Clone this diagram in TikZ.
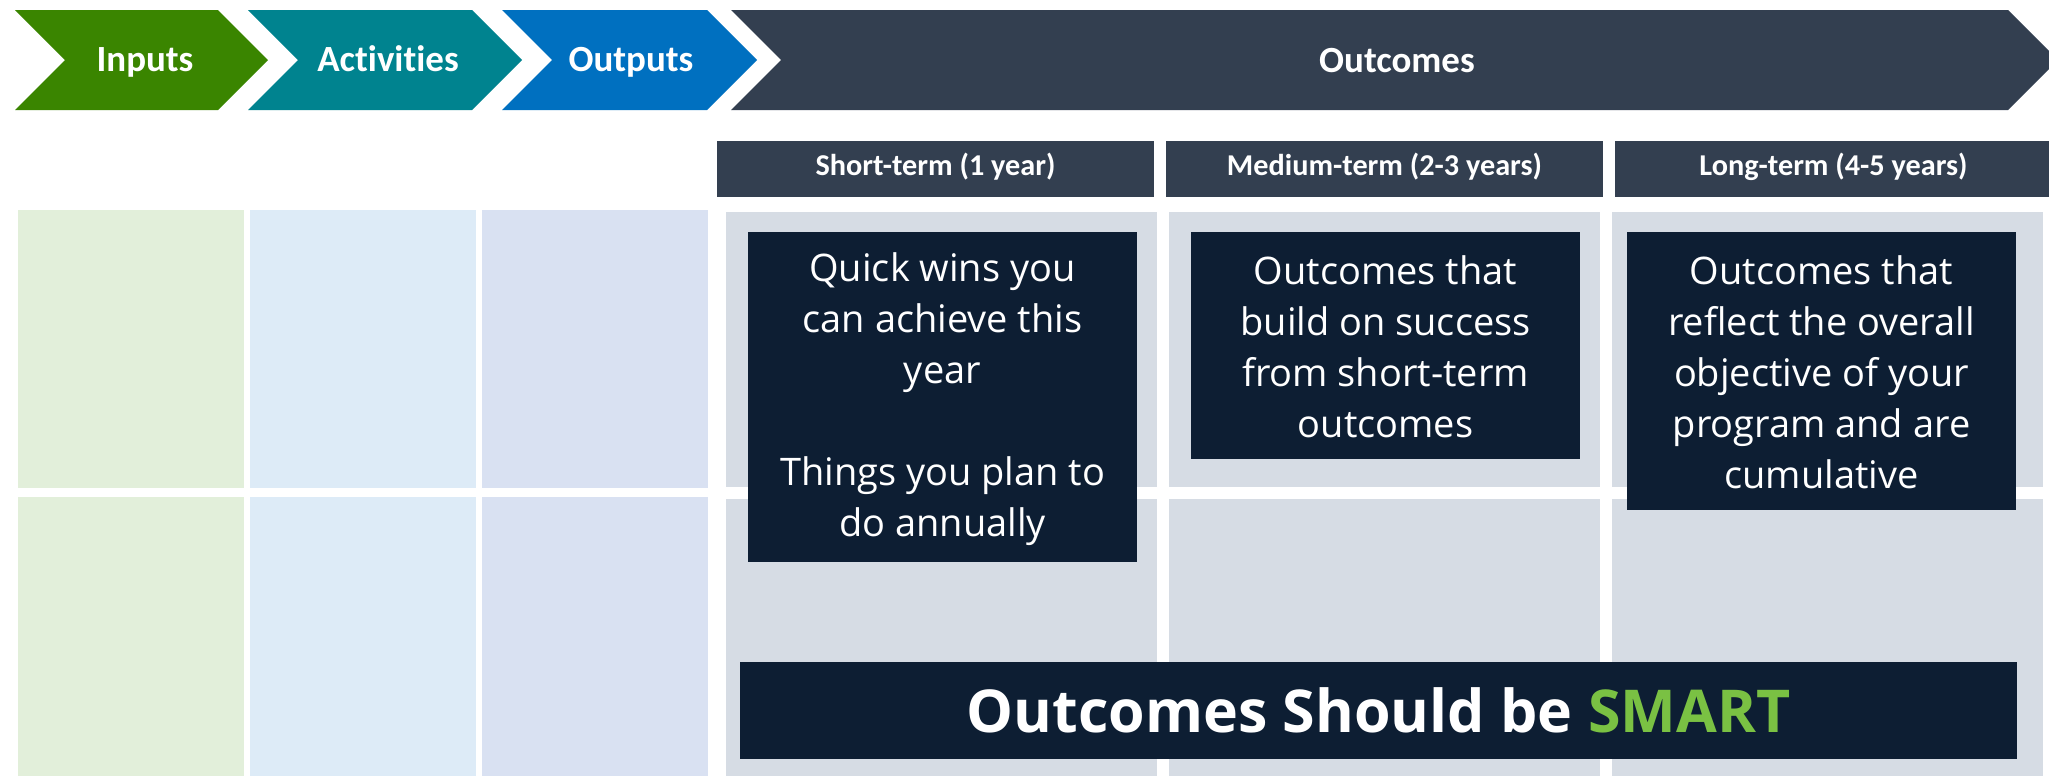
\documentclass[tikz,border=0pt]{standalone}
\usepackage{fontspec}
\setmainfont{Open Sans}
\newfontfamily\calfont[Ligatures=NoCommon]{Carlito}
\definecolor{inpc}{RGB}{58,133,0}
\definecolor{actc}{RGB}{0,131,143}
\definecolor{outc}{RGB}{0,112,192}
\definecolor{ocmc}{RGB}{51,63,80}
\definecolor{inpbg}{RGB}{226,239,218}
\definecolor{actbg}{RGB}{221,235,247}
\definecolor{outbg}{RGB}{217,225,242}
\definecolor{ocmbg}{RGB}{214,220,228}
\definecolor{boxc}{RGB}{13,30,51}
\definecolor{smartc}{RGB}{122,193,67}

% chevron: colour, left x, right x
\newcommand{\chevron}[3]{\fill[#1] (#2,10) -- (#3,10) -- ++(50,50) -- ++(-50,50) -- (#2,110) -- ++(50,-50) -- cycle;}

\begin{document}
\begin{tikzpicture}[x=0.01cm,y=-0.01cm]
\tikzstyle{chv}=[anchor=base,text=white,font=\calfont\bfseries\fontsize{10.5}{12}\selectfont];
\tikzstyle{hdr}=[anchor=base,text=white,font=\calfont\bfseries\fontsize{8.6}{10}\selectfont];
\tikzstyle{boxtxt}=[anchor=center,text=white,align=center,font=\fontsize{10.8}{14.5}\selectfont];
\tikzstyle{smart}=[anchor=base,text=white,font=\bfseries\fontsize{16.8}{20}\selectfont];

\useasboundingbox (0,0) rectangle (2049,775);
\clip (0,0) rectangle (2049,775);
\fill[white] (0,0) rectangle (2049,775);

\begin{scope}
      % top row of chevrons
      \chevron{inpc}{15}{218}
      \chevron{actc}{248}{472}
      \chevron{outc}{502}{707}
      \chevron{ocmc}{731}{2008}

        \node[chv] (inputs) at (145,71) {Inputs};
        \node[chv] (activities) at (388,71) {Activities};
        \node[chv] (outputs) at (631,71) {Outputs};
        \node[chv] (outcomes) at (1397,72) {Outcomes};

      % term headers
      \foreach \x in {717,1166,1615}
        \fill[ocmc] (\x,141) rectangle +(437,56);

        \node[hdr] (short) at (935.5,175) {Short-term (1 year)};
        \node[hdr] (medium) at (1384.5,175) {Medium-term (2-3 years)};
        \node[hdr] (long) at (1833.5,175) {Long-term (4-5 years)};

      % cells
      \foreach \x/\c in {18/inpbg,250/actbg,482/outbg}{
        \fill[\c] (\x,210) rectangle +(226,278);
        \fill[\c] (\x,497) rectangle +(226,290);
      }
      \foreach \x in {726,1169,1612}{
        \fill[ocmbg] (\x,212) rectangle +(431,275);
        \fill[ocmbg] (\x,499) rectangle +(431,290);
      }

      % text boxes
      \fill[boxc] (748,232) rectangle (1137,562);
      \fill[boxc] (1191,232) rectangle (1580,459);
      \fill[boxc] (1627,232) rectangle (2016,510);
      \fill[boxc] (740,662) rectangle (2017,759);

        \node[boxtxt] (quick) at (942.5,399) {Quick wins you\\can achieve this\\year\\[14.5pt]Things you plan to\\do annually};
        \node[boxtxt] (build) at (1385.5,347) {Outcomes that\\build on success\\from short-term\\outcomes};
        \node[boxtxt] (reflect) at (1821.5,372.5) {Outcomes that\\reflect the overall\\objective of your\\program and are\\cumulative};
        \node[smart] (smt) at (1378.5,732) {Outcomes Should be \textcolor{smartc}{SMART}};
\end{scope}

\end{tikzpicture}
\end{document}
